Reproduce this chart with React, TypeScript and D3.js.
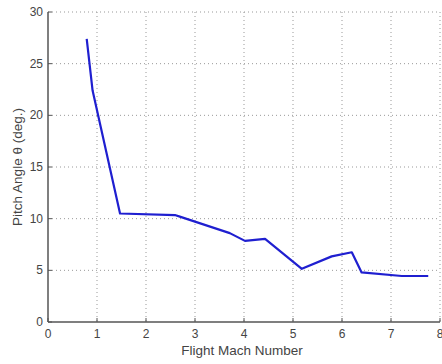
import React from "react";
import * as d3 from "d3";

// Pitch angle vs. flight Mach number
const machNumbers = [0.79, 0.91, 1.47, 2.59, 2.69, 3.71, 4.02, 4.43, 5.18, 5.79, 6.2, 6.4, 7.22, 7.76];
const pitchAngles = [27.4, 22.4, 10.5, 10.35, 10.2, 8.6, 7.85, 8.05, 5.15, 6.35, 6.75, 4.8, 4.45, 4.45];
const xTicks = [0, 1, 2, 3, 4, 5, 6, 7, 8];
const yTicks = [0, 5, 10, 15, 20, 25, 30];

const W = 442;
const H = 364;
const left = 48;
const right = 440;
const top = 12;
const bottom = 322;

export default function App() {
  const x = d3.scaleLinear().domain([0, 8]).range([left, right]);
  const y = d3.scaleLinear().domain([0, 30]).range([bottom, top]);
  const line = d3
    .line<number>()
    .x((_, i) => x(machNumbers[i]))
    .y((d) => y(d));
  const font = "'Liberation Sans', Arial, sans-serif";
  const textColor = "#444";
  const axisColor = "#555";
  const gridColor = "#999";

  return (
    <svg
      width={W}
      height={H}
      style={{ position: "absolute", left: 0, top: 0, background: "#fff" }}
      fontFamily={font}
    >
      <rect x={0} y={0} width={W} height={H} fill="#fff" />
      {/* grid */}
      {xTicks.slice(1).map((t) => (
        <line
          key={"gx" + t}
          x1={x(t)}
          x2={x(t)}
          y1={top}
          y2={bottom}
          stroke={gridColor}
          strokeWidth={1}
          strokeDasharray="1 3"
        />
      ))}
      {yTicks.slice(1).map((t) => (
        <line
          key={"gy" + t}
          x1={left}
          x2={right}
          y1={y(t)}
          y2={y(t)}
          stroke={gridColor}
          strokeWidth={1}
          strokeDasharray="1 3"
        />
      ))}
      {/* axes */}
      <line x1={left} x2={left} y1={top} y2={bottom} stroke={axisColor} strokeWidth={1.5} />
      <line x1={left} x2={right} y1={bottom} y2={bottom} stroke={axisColor} strokeWidth={1.5} />
      {xTicks.map((t) => (
        <g key={"xt" + t}>
          <line x1={x(t)} x2={x(t)} y1={bottom} y2={bottom - 4} stroke={axisColor} strokeWidth={1} />
          <text x={x(t)} y={bottom + 16} textAnchor="middle" fontSize={12} fill={textColor}>
            {t}
          </text>
        </g>
      ))}
      {yTicks.map((t) => (
        <g key={"yt" + t}>
          <line x1={left} x2={left + 4} y1={y(t)} y2={y(t)} stroke={axisColor} strokeWidth={1} />
          <text x={left - 5} y={y(t) + 4} textAnchor="end" fontSize={12} fill={textColor}>
            {t}
          </text>
        </g>
      ))}
      {/* series */}
      <path d={line(pitchAngles) || ""} fill="none" stroke="#1f1fd0" strokeWidth={2.2} strokeLinejoin="round" />
      {/* labels */}
      <text x={242} y={355} textAnchor="middle" fontSize={13.5} fill={textColor}>
        Flight Mach Number
      </text>
      <text
        transform={`translate(22,167) rotate(-90)`}
        textAnchor="middle"
        fontSize={13.5}
        fill={textColor}
      >
        Pitch Angle θ (deg.)
      </text>
    </svg>
  );
}
